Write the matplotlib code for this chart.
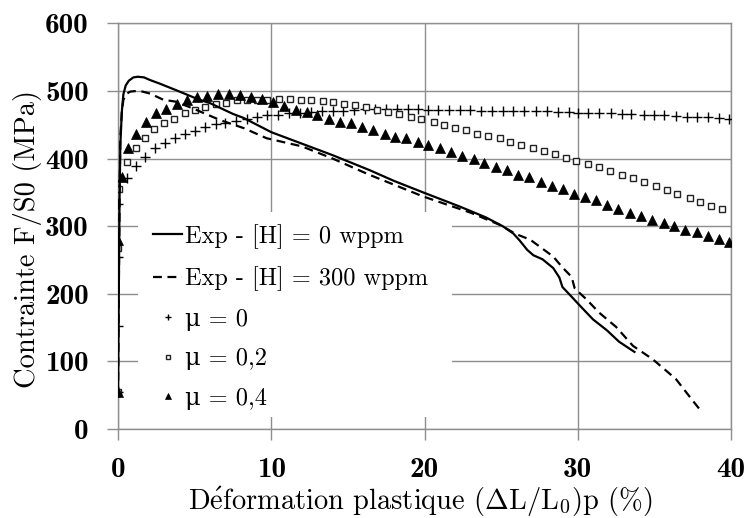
import matplotlib
matplotlib.use("Agg")
import matplotlib.pyplot as plt
from matplotlib.patches import Rectangle

plt.rcParams['font.family'] = ['cmr10', 'DejaVu Serif']
plt.rcParams['mathtext.fontset'] = 'cm'
plt.rcParams['axes.formatter.use_mathtext'] = True

# ---- data ----
exp0_x = [0, 0.05, 0.1, 0.15, 0.25, 0.35, 0.5, 0.7, 1.0, 1.3, 1.7, 2.1, 2.7, 3.8, 5.3, 6.0, 7.5, 8.2,
          10.0, 12.0, 14.0, 16.4, 18.0, 19.9, 22.3, 24.0, 25.1, 25.8, 26.2, 26.7, 27.1, 27.7, 28.4,
          28.8, 29.0, 29.5, 30.2, 31.0, 31.9, 32.7, 33.7]
exp0_y = [50, 200, 340, 420, 470, 495, 508, 515, 520, 521, 520, 516, 511, 501, 487, 482, 466, 460,
          439, 422, 405, 383, 367, 350, 329, 313, 300, 289, 279, 265, 257, 251, 238,
          224, 210, 198, 181, 162, 146, 129, 114]

exp300_x = [0, 0.05, 0.1, 0.15, 0.25, 0.35, 0.57, 0.8, 1.2, 1.6, 2.1, 2.95, 3.8, 5.1, 6.65, 8.2, 9.7,
            12.0, 14.0, 16.4, 19.9, 23.0, 24.9, 26.0, 26.9, 27.5, 28.4, 29.0, 29.6, 29.8, 30.6, 31.4,
            32.5, 33.6, 34.9, 36.4, 37.5, 38.1]
exp300_y = [50, 200, 340, 430, 470, 487, 496, 499, 500, 499, 496, 487, 484, 472, 457, 445, 430,
            418, 400, 376, 344, 320, 302, 288, 280, 270, 255, 239, 225, 208, 191, 172,
            151, 123, 103, 74, 42, 25]

mu0_x = [0, 0, 0, 0, 0.56, 1.17, 1.76, 2.41, 3.07, 3.72, 4.37, 5.0, 5.67, 6.37, 7.0, 7.7, 8.4, 9.05,
         9.7, 10.46, 11.15, 11.9, 12.6, 13.3, 14.0, 14.7, 15.4, 16.1, 16.8, 17.5, 18.2, 18.9, 19.6,
         20.2, 20.9, 21.6, 22.3, 23.0, 23.7, 24.4, 25.1, 25.8, 26.5, 27.3, 28.0, 28.7, 29.4, 30.0,
         30.7, 31.4, 32.2, 32.9, 33.5, 34.3, 35.0, 35.6, 36.4, 37.1, 37.8, 38.5, 39.2, 39.9]
mu0_y = [55, 152, 255, 333, 371, 389, 403, 415, 423, 430, 436, 441, 446, 451, 453, 456, 459, 461,
         464, 465, 467, 468, 469, 470, 470, 471, 472, 473, 473, 473, 473, 473, 473,
         472, 472, 472, 472, 472, 471, 471, 471, 471, 470, 470, 470, 469, 469, 468,
         468, 467, 467, 466, 466, 465, 465, 464, 463, 462, 462, 461, 460, 459]

mu02_x = [0, 0, 0.08, 0.6, 1.15, 1.76, 2.37, 3.0, 3.67, 4.37, 5.0, 5.67, 6.37, 7.05, 7.74, 8.4, 9.05,
          9.7, 10.5, 11.2, 11.94, 12.6, 13.35, 14.0, 14.76, 15.46, 16.2, 16.9, 17.6, 18.35, 19.1,
          19.8, 20.6, 21.3, 22.0, 22.7, 23.4, 24.15, 24.9, 25.6, 26.3, 27.1, 27.8, 28.5, 29.2, 29.9,
          30.7, 31.4, 32.1, 32.9, 33.6, 34.3, 35.1, 35.8, 36.5, 37.3, 38.0, 38.7, 39.4]
mu02_y = [55, 268, 355, 395, 415, 431, 443, 452, 458, 467, 472, 476, 481, 482, 486, 487, 487,
          486, 488, 488, 487, 487, 485, 483, 481, 479, 476, 472, 469, 466, 462,
          459, 454, 450, 445, 442, 437, 433, 430, 425, 420, 416, 411, 406, 401, 397,
          392, 387, 381, 376, 371, 366, 359, 353, 348, 342, 336, 330, 325]

mu04_x = [0, 0, 0.24, 0.67, 1.2, 1.83, 2.48, 3.13, 3.83, 4.48, 5.17, 5.83, 6.55, 7.24, 7.96, 8.66,
          9.37, 10.13, 10.85, 11.6, 12.3, 13.0, 13.76, 14.5, 15.2, 15.9, 16.65, 17.4, 18.1, 18.8,
          19.55, 20.24, 21.0, 21.7, 22.46, 23.2, 23.9, 24.66, 25.4, 26.1, 26.8, 27.6, 28.3, 29.05,
          29.75, 30.5, 31.2, 31.9, 32.6, 33.4, 34.1, 34.85, 35.6, 36.3, 37.0, 37.8, 38.5, 39.2, 39.9]
mu04_y = [55, 280, 372, 415, 436, 454, 467, 473, 480, 486, 491, 493, 496, 495, 494, 491,
          488, 484, 478, 472, 469, 464, 458, 454, 452, 447, 442, 437, 432, 430,
          425, 420, 415, 410, 404, 400, 393, 388, 383, 376, 372, 366, 360, 355,
          348, 343, 338, 331, 326, 320, 315, 309, 305, 300, 295, 291, 286, 281, 277]

labels = ['Exp - [H] = 0 wppm', 'Exp - [H] = 300 wppm', '\u03bc = 0', '\u03bc = 0,2', '\u03bc = 0,4']
xticks = [0, 10, 20, 30, 40]
yticks = [0, 100, 200, 300, 400, 500, 600]
xlabel = 'D$\\acute{\\mathrm{e}}$formation plastique ($\\mathbf{\\Delta}$L/L$_0$)p (%)'
ylabel = 'Contrainte F/S0 (MPa)'

# ---- figure ----
fig = plt.figure(figsize=(7.47, 5.18), dpi=100)
ax = fig.add_axes([0.158, 0.1718, 0.8206, 0.7832])

gray = '#8e8e8e'
ax.plot(mu0_x, mu0_y, linestyle='none', marker='+', ms=7, mew=1.0, color='black', label=labels[2], zorder=3)
ax.plot(mu02_x, mu02_y, linestyle='none', marker='s', ms=5, mew=1.0, mfc='white', mec='#222222', label=labels[3], zorder=3)
ax.plot(mu04_x, mu04_y, linestyle='none', marker='^', ms=6.5, mew=0.5, color='black', label=labels[4], zorder=3)
ax.plot(exp0_x, exp0_y, color='black', lw=1.6, label=labels[0], zorder=4)
ax.plot(exp300_x, exp300_y, color='black', lw=1.6, dashes=(4, 2.5), label=labels[1], zorder=4)

ax.set_xlim(0, 40)
ax.set_ylim(0, 600)
ax.set_xticks(xticks, [str(v) for v in xticks], fontfamily='cmb10', fontsize=21)
ax.set_yticks(yticks, [str(v) for v in yticks], fontfamily='cmb10', fontsize=21)
ax.tick_params(axis='both', direction='out', length=8, width=1.0, color=gray)
ax.tick_params(axis='x', pad=12)
ax.tick_params(axis='y', pad=13)
ax.grid(True, color=gray, lw=1.0)
ax.set_axisbelow(True)
for s in ax.spines.values():
    s.set_color(gray)
    s.set_linewidth(1.0)

ax.set_xlabel(xlabel, fontsize=20.5)
ax.set_ylabel(ylabel, fontsize=20.5)
ax.xaxis.label.set_va('center')
ax.yaxis.label.set_va('center')
ax.xaxis.set_label_coords(0.493, -0.181)
ax.yaxis.set_label_coords(-0.147, 0.468)

# white area behind legend
ax.add_patch(Rectangle((0.0326, 0.0303), 0.512, 0.505, transform=ax.transAxes,
                       facecolor='white', edgecolor='none', zorder=1))

h, l = ax.get_legend_handles_labels()
order = [3, 4, 0, 1, 2]
leg = ax.legend([h[i] for i in order], [l[i] for i in order], loc='upper left',
                bbox_to_anchor=(0.057, 0.505), frameon=False, fontsize=17.5,
                handlelength=1.2, handletextpad=0.12, labelspacing=0.72,
                borderpad=0, borderaxespad=0, markerscale=0.6)

fig.savefig('out.png', dpi=100)
